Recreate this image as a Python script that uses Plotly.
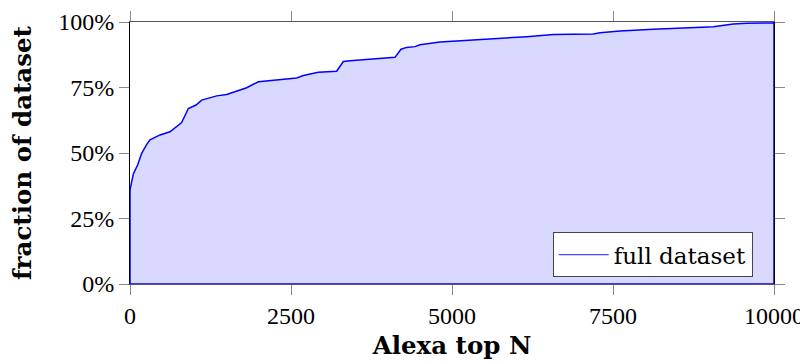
import plotly.graph_objects as go

# Alexa top N (x) vs cumulative fraction of dataset (%) (y)
alexa_n = [0, 52, 120, 181, 207, 260, 311, 466, 621, 700, 802, 906, 1025, 1113, 1216, 1346,
           1501, 1656, 1812, 1993, 2226, 2588, 2692, 2924, 3209, 3313, 3416, 4115, 4208,
           4296, 4425, 4503, 4814, 5331, 5849, 6160, 6573, 6832, 7194, 7298, 7609, 8126,
           8747, 9058, 9368, 9575, 9990, 10000]
fraction_pct = [35.9, 42.0, 45.5, 49.9, 51.1, 53.3, 55.0, 56.9, 58.1, 59.6, 61.6, 67.0, 68.3,
                70.2, 70.9, 71.8, 72.3, 73.7, 74.9, 77.2, 77.7, 78.6, 79.6, 80.8, 81.2, 84.9,
                85.2, 86.5, 89.6, 90.3, 90.6, 91.3, 92.4, 93.1, 93.9, 94.4, 95.2, 95.3, 95.4,
                95.9, 96.6, 97.2, 97.8, 98.2, 99.2, 99.5, 99.7, 100.0]

x_ticks = [0, 2500, 5000, 7500, 10000]
x_tick_labels = ["0", "2500", "5000", "7500", "10000"]
y_ticks = [0, 25, 50, 75, 100]
y_tick_labels = ["0%", "25%", "50%", "75%", "100%"]

series_name = "full dataset"
x_title = "Alexa top N"
y_title = "fraction of dataset"

# closed polygon: from (0,0) along the curve to (xmax,0) and back
poly_x = [alexa_n[0]] + alexa_n + [alexa_n[-1], alexa_n[0]]
poly_y = [0] + fraction_pct + [0, 0]

BLUE = "#0000ff"
FILL = "#d9d9ff"
TICK_FONT = dict(family="Liberation Serif", size=24, color="black")
TITLE_FONT = dict(family="DejaVu Serif", size=24.5, color="black", weight="bold")

fig = go.Figure()
fig.add_trace(go.Scatter(
    x=poly_x, y=poly_y, mode="lines", fill="toself", fillcolor=FILL,
    line=dict(color=BLUE, width=1.5), showlegend=False, hoverinfo="skip",
))
fig.add_trace(go.Scatter(
    x=[None], y=[None], mode="lines", name=series_name,
    line=dict(color="#4a4aff", width=1.2),
))

axis_common = dict(
    showgrid=False, zeroline=False, ticks="outside", ticklen=10, tickwidth=1,
    tickcolor="#888888", showline=True, mirror="ticks", tickfont=TICK_FONT,
    automargin=False,
)

fig.update_xaxes(
    range=[0, 10000], tickvals=x_ticks, ticktext=x_tick_labels,
    linecolor="#555555", linewidth=1,
    title=dict(text=x_title, font=TITLE_FONT, standoff=9), **axis_common,
)
fig.update_yaxes(
    range=[0, 100], tickvals=y_ticks, ticktext=y_tick_labels,
    linecolor="black", linewidth=1,
    title=dict(text=y_title, font=TITLE_FONT, standoff=22), **axis_common,
)

# page body has an 8px default margin, so the figure is 800x356 and offset by 8px
fig.update_layout(
    width=800, height=356,
    margin=dict(l=122, r=34, t=14, b=80, autoexpand=False),
    paper_bgcolor="white", plot_bgcolor="white",
    font=dict(family="Liberation Serif", color="black"),
    legend=dict(
        x=0.967, y=0.026, xanchor="right", yanchor="bottom",
        bgcolor="white", bordercolor="#444444", borderwidth=1,
        font=dict(family="DejaVu Serif", size=23, color="black"),
        itemwidth=50,
    ),
)

fig.write_html("out.html")
